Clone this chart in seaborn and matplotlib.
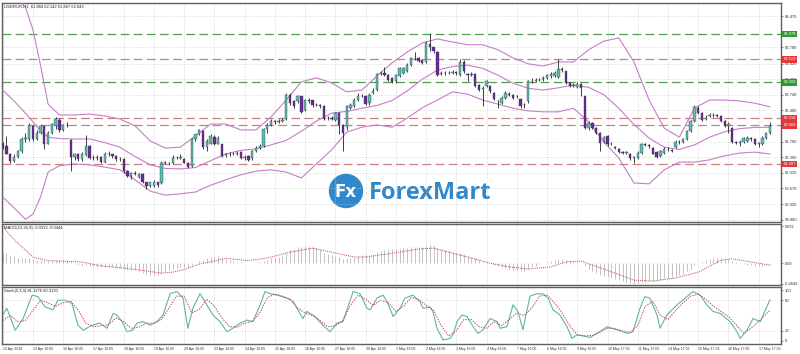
import numpy as np
import pandas as pd
import matplotlib
matplotlib.use("Agg")
import matplotlib.pyplot as plt
import matplotlib.transforms as mtrans
from matplotlib.patches import Circle
import seaborn as sns

sns.set_style("white")
plt.rcParams['font.family'] = ['Liberation Sans', 'DejaVu Sans']

# ---------------- data ----------------
opens = [61.64, 61.60, 61.44, 61.28, 61.37, 61.50, 61.75, 61.75, 62.05, 61.76, 61.90, 62.05, 61.66, 61.90, 62.04, 62.18,
         61.95, 62.08, 61.74, 61.36, 61.42, 61.32, 61.40, 61.61, 61.35, 61.34, 61.36, 61.26, 61.44, 61.42, 61.39, 61.31,
         61.32, 61.05, 60.95, 61.02, 60.92, 60.98, 60.80, 60.72, 60.72, 60.80, 60.78, 61.24, 61.24, 61.22, 61.35, 61.34,
         61.32, 61.24, 61.17, 61.75, 61.86, 61.94, 61.58, 61.66, 61.80, 61.66, 61.64, 61.40, 61.42, 61.43, 61.44, 61.47,
         61.35, 61.38, 61.33, 61.50, 61.57, 61.61, 61.97, 62.08, 62.15, 62.14, 62.16, 62.20, 62.74, 62.60, 62.59, 62.70,
         62.40, 62.62, 62.61, 62.51, 62.50, 62.48, 62.22, 62.23, 62.19, 62.33, 62.08, 62.02, 62.44, 62.48, 62.63, 62.72,
         62.70, 62.55, 62.78, 62.85, 63.20, 63.22, 63.18, 63.10, 63.03, 63.14, 63.22, 63.25, 63.40, 63.55, 63.55, 63.51,
         63.47, 63.86, 63.78, 63.68, 63.20, 63.22, 63.21, 63.22, 63.24, 63.18, 63.47, 63.20, 63.18, 63.19, 62.95, 62.87,
         62.92, 62.92, 62.78, 62.60, 62.56, 62.67, 62.76, 62.74, 62.70, 62.65, 62.50, 62.59, 63.04, 63.05, 63.07, 63.08,
         63.11, 63.14, 63.16, 63.12, 63.30, 63.25, 63.00, 62.94, 62.91, 62.98, 62.70, 62.01, 62.12, 62.01, 61.90, 61.70,
         61.83, 61.65, 61.58, 61.55, 61.47, 61.46, 61.44, 61.35, 61.35, 61.46, 61.64, 61.62, 61.57, 61.47, 61.39, 61.46,
         61.54, 61.52, 61.58, 61.70, 61.70, 61.75, 61.94, 62.16, 62.45, 62.34, 62.20, 62.27, 62.29, 62.28, 62.27, 62.16,
         62.05, 62.01, 61.70, 61.68, 61.70, 61.71, 61.78, 61.76, 61.66, 61.64, 61.79, 61.884]
highs = [61.70, 61.83, 61.46, 61.42, 61.52, 61.80, 61.90, 62.12, 62.08, 61.95, 62.10, 62.08, 61.93, 62.12, 62.24, 62.22,
         62.10, 62.14, 61.76, 61.46, 61.45, 61.47, 61.85, 61.63, 61.40, 61.40, 61.38, 61.48, 61.50, 61.44, 61.41, 61.36,
         61.34, 61.07, 61.04, 61.05, 61.00, 61.00, 60.82, 60.82, 60.86, 60.82, 61.27, 61.28, 61.26, 61.40, 61.38, 61.42,
         61.34, 61.26, 61.78, 61.88, 61.98, 61.96, 61.75, 61.86, 61.84, 61.83, 61.66, 61.45, 61.47, 61.48, 61.49, 61.49,
         61.40, 61.40, 61.52, 61.60, 61.64, 62.00, 62.12, 62.20, 62.19, 62.21, 62.22, 62.78, 62.78, 62.62, 62.74, 62.72,
         62.65, 62.66, 62.63, 62.56, 62.53, 62.50, 62.27, 62.26, 62.36, 62.35, 62.10, 62.52, 62.56, 62.66, 62.77, 62.76,
         62.72, 62.78, 62.88, 63.22, 63.26, 63.34, 63.20, 63.12, 63.20, 63.35, 63.36, 63.43, 63.58, 63.68, 63.58, 63.53,
         63.92, 64.10, 63.80, 63.70, 63.26, 63.25, 63.26, 63.28, 63.26, 63.52, 63.50, 63.22, 63.24, 63.21, 62.97, 62.92,
         63.07, 62.95, 62.80, 62.63, 62.70, 62.81, 62.79, 62.76, 62.74, 62.67, 62.55, 63.06, 63.10, 63.11, 63.11, 63.14,
         63.20, 63.23, 63.26, 63.52, 63.34, 63.27, 63.02, 62.99, 63.01, 63.00, 62.72, 62.15, 62.14, 62.03, 61.92, 61.83,
         61.85, 61.70, 61.61, 61.57, 61.50, 61.50, 61.46, 61.39, 61.49, 61.67, 61.68, 61.65, 61.59, 61.49, 61.52, 61.58,
         61.58, 61.54, 61.73, 61.73, 61.78, 61.96, 62.19, 62.52, 62.48, 62.36, 62.30, 62.34, 62.33, 62.32, 62.29, 62.18,
         62.14, 62.03, 61.72, 61.74, 61.81, 61.83, 61.80, 61.78, 61.70, 61.82, 61.92, 62.142]
lows = [61.55, 61.42, 61.22, 61.25, 61.33, 61.46, 61.70, 61.72, 61.72, 61.73, 61.88, 61.55, 61.64, 61.86, 61.97, 61.92,
        61.93, 62.02, 61.06, 61.30, 61.28, 61.28, 61.38, 61.32, 61.30, 61.30, 61.22, 61.24, 61.39, 61.35, 61.28, 61.28,
        61.02, 60.92, 60.88, 60.96, 60.90, 60.78, 60.65, 60.70, 60.70, 60.70, 60.76, 61.20, 61.19, 61.20, 61.31, 61.32,
        61.22, 61.13, 61.15, 61.72, 61.84, 61.55, 61.50, 61.64, 61.63, 61.64, 61.36, 61.37, 61.38, 61.40, 61.40, 61.31,
        61.30, 61.28, 61.30, 61.48, 61.55, 61.58, 61.90, 62.04, 62.10, 62.11, 62.13, 62.17, 62.52, 62.44, 62.56, 62.33,
        62.37, 62.55, 62.47, 62.48, 62.45, 62.18, 62.18, 62.17, 62.16, 61.86, 61.50, 61.95, 62.42, 62.46, 62.60, 62.68,
        62.50, 62.52, 62.76, 62.82, 63.17, 63.15, 63.04, 62.99, 63.00, 63.12, 63.20, 63.23, 63.38, 63.51, 63.45, 63.41,
        63.44, 63.70, 63.66, 63.14, 63.18, 63.18, 63.19, 63.20, 63.18, 63.16, 63.22, 63.05, 63.15, 62.90, 62.82, 62.48,
        62.90, 62.78, 62.62, 62.44, 62.53, 62.64, 62.71, 62.64, 62.67, 62.45, 62.44, 62.56, 63.00, 63.02, 63.03, 63.05,
        63.08, 63.11, 63.13, 63.10, 63.24, 62.97, 62.90, 62.91, 62.89, 62.71, 61.98, 61.96, 61.98, 61.87, 61.50, 61.67,
        61.61, 61.62, 61.53, 61.46, 61.43, 61.42, 61.30, 61.24, 61.32, 61.44, 61.60, 61.57, 61.42, 61.33, 61.36, 61.44,
        61.50, 61.47, 61.56, 61.66, 61.68, 61.73, 61.91, 62.13, 62.31, 62.16, 62.17, 62.24, 62.25, 62.24, 62.13, 62.02,
        61.90, 61.68, 61.65, 61.60, 61.68, 61.69, 61.72, 61.63, 61.58, 61.62, 61.77, 61.867]
closes = [61.60, 61.44, 61.28, 61.37, 61.50, 61.75, 61.78, 62.08, 61.76, 61.90, 62.05, 61.66, 61.90, 62.09, 62.20, 61.95,
          62.08, 62.07, 61.36, 61.42, 61.32, 61.44, 61.61, 61.35, 61.34, 61.36, 61.26, 61.44, 61.42, 61.39, 61.31, 61.32,
          61.05, 60.95, 61.02, 60.99, 60.98, 60.80, 60.72, 60.80, 60.81, 60.74, 61.24, 61.24, 61.22, 61.35, 61.34, 61.36,
          61.24, 61.15, 61.75, 61.86, 61.95, 61.58, 61.72, 61.83, 61.66, 61.79, 61.39, 61.42, 61.43, 61.44, 61.45, 61.35,
          61.36, 61.30, 61.50, 61.57, 61.61, 61.97, 62.08, 62.15, 62.14, 62.16, 62.18, 62.74, 62.56, 62.48, 62.70, 62.36,
          62.63, 62.59, 62.50, 62.52, 62.48, 62.22, 62.23, 62.21, 62.33, 62.08, 61.89, 62.48, 62.52, 62.63, 62.72, 62.71,
          62.53, 62.74, 62.81, 63.20, 63.22, 63.18, 63.07, 63.02, 63.18, 63.33, 63.33, 63.40, 63.55, 63.54, 63.48, 63.44,
          63.88, 63.80, 63.70, 63.18, 63.22, 63.21, 63.22, 63.24, 63.21, 63.47, 63.25, 63.18, 63.20, 62.92, 62.85, 62.88,
          63.03, 62.81, 62.65, 62.59, 62.67, 62.78, 62.74, 62.67, 62.71, 62.48, 62.52, 63.03, 63.05, 63.07, 63.06, 63.10,
          63.17, 63.20, 63.22, 63.30, 63.28, 63.00, 62.93, 62.95, 62.98, 62.89, 62.01, 62.12, 62.01, 61.90, 61.68, 61.80,
          61.64, 61.66, 61.57, 61.48, 61.46, 61.46, 61.33, 61.36, 61.46, 61.64, 61.63, 61.61, 61.44, 61.36, 61.50, 61.55,
          61.53, 61.50, 61.70, 61.69, 61.75, 61.94, 62.16, 62.47, 62.34, 62.19, 62.23, 62.29, 62.28, 62.27, 62.16, 62.05,
          62.10, 61.70, 61.68, 61.70, 61.78, 61.79, 61.76, 61.66, 61.66, 61.79, 61.90, 62.043]

band_bar = [0, 3, 6, 8, 10, 12, 15, 19, 23, 27, 31, 35, 39, 43, 47, 51, 55, 59, 63, 67, 71, 75, 79, 83, 87, 91, 95,
            99, 103, 107, 111, 115, 119, 123, 127, 131, 135, 139, 143, 147, 151, 155, 159, 163, 167, 171, 175, 179,
            183, 187, 191, 195, 199, 203]
band_mid = [62.84, 62.60, 62.33, 62.14, 61.94, 61.80, 61.77, 61.76, 61.76, 61.68, 61.58, 61.375, 61.19, 61.11, 61.10,
            61.13, 61.28, 61.43, 61.51, 61.54, 61.63, 61.73, 61.93, 62.155, 62.33, 62.37, 62.44, 62.50, 62.61, 62.82,
            63.08, 63.28, 63.36, 63.39, 63.32, 63.17, 62.99, 62.88, 62.84, 62.89, 62.95, 62.90, 62.74, 62.44, 62.08,
            61.78, 61.58, 61.53, 61.63, 61.80, 61.92, 61.99, 62.015, 62.02]
band_up = [65.20, 64.96, 64.67, 64.17, 63.39, 62.53, 62.29, 62.29, 62.31, 62.27, 62.20, 62.05, 61.72, 61.56, 61.58,
           61.83, 62.09, 62.09, 61.96, 61.96, 62.25, 62.62, 63.02, 63.11, 63.00, 62.80, 62.84, 63.15, 63.44, 63.68,
           63.88, 63.97, 63.90, 63.84, 63.84, 63.73, 63.55, 63.42, 63.37, 63.46, 63.46, 63.73, 63.92, 63.99, 63.46,
           62.62, 62.00, 61.80, 62.44, 62.62, 62.62, 62.60, 62.55, 62.47]
band_low = [60.48, 60.24, 59.99, 60.10, 60.48, 61.03, 61.17, 61.21, 61.19, 61.14, 61.08, 60.86, 60.61, 60.52, 60.55,
            60.59, 60.74, 60.86, 60.97, 61.05, 61.08, 61.03, 60.90, 61.21, 61.52, 61.91, 62.02, 62.07, 62.02, 62.22,
            62.45, 62.62, 62.80, 62.75, 62.62, 62.53, 62.44, 62.38, 62.36, 62.36, 62.44, 62.14, 61.70, 61.34, 60.79,
            60.77, 61.08, 61.25, 61.25, 61.30, 61.39, 61.45, 61.47, 61.43]

levels = [64.078, 63.519, 63.009, 62.218, 62.063, 61.207]
level_kind = ['g', 'r', 'g', 'r', 'r', 'r']

price_ticks = [64.470, 63.780, 63.420, 63.080, 62.740, 62.400, 61.700, 61.360, 61.010, 60.670, 60.320, 59.980]

macd_main = [0.23, 0.22, 0.19, 0.16, 0.13, 0.12, 0.11, 0.11, 0.09, 0.08, 0.08, 0.06, 0.06, 0.07, 0.08, 0.07,
             0.07, 0.07, 0.02, -0.01, -0.04, -0.05, -0.04, -0.06, -0.07, -0.08, -0.09, -0.09, -0.09, -0.09, -0.10, -0.10,
             -0.12, -0.14, -0.15, -0.16, -0.18, -0.21, -0.24, -0.26, -0.27, -0.27, -0.25, -0.20, -0.16, -0.13, -0.11, -0.09,
             -0.09, -0.09, -0.04, 0.01, 0.05, 0.08, 0.11, 0.14, 0.15, 0.16, 0.13, 0.10, 0.07, 0.05, 0.04, 0.02,
             0.01, 0.00, 0.00, 0.01, 0.02, 0.05, 0.08, 0.11, 0.13, 0.15, 0.16, 0.22, 0.30, 0.33, 0.36, 0.36,
             0.38, 0.38, 0.36, 0.34, 0.31, 0.22, 0.20, 0.18, 0.17, 0.14, 0.10, 0.12, 0.13, 0.15, 0.17, 0.18,
             0.18, 0.19, 0.20, 0.25, 0.28, 0.30, 0.31, 0.31, 0.32, 0.33, 0.34, 0.34, 0.36, 0.37, 0.37, 0.36,
             0.39, 0.40, 0.40, 0.35, 0.32, 0.29, 0.27, 0.25, 0.22, 0.22, 0.20, 0.17, 0.15, 0.11, 0.07, 0.04,
             0.03, 0.00, -0.03, -0.06, -0.09, -0.11, -0.13, -0.15, -0.16, -0.17, -0.18, -0.13, -0.09, -0.05, -0.02, 0.01,
             0.03, 0.05, 0.07, 0.09, 0.10, 0.08, 0.06, 0.04, 0.03, 0.01, -0.07, -0.12, -0.17, -0.21, -0.26, -0.28,
             -0.31, -0.33, -0.36, -0.38, -0.40, -0.42, -0.44, -0.4646, -0.44, -0.42, -0.41, -0.40, -0.40, -0.40, -0.38, -0.36,
             -0.34, -0.32, -0.29, -0.26, -0.23, -0.18, -0.12, -0.04, 0.01, 0.04, 0.07, 0.09, 0.11, 0.12, 0.12, 0.11,
             0.10, 0.05, 0.02, -0.01, -0.02, -0.03, -0.04, -0.05, -0.06, -0.05, -0.04, -0.0312]
sig_bar = [0, 2, 4, 6, 8, 12, 21, 26, 30, 35, 42, 45, 48, 52, 59, 65, 70, 76, 82, 87, 93, 96, 105, 110, 114, 118,
           123, 129, 134, 139, 145, 149, 153, 156, 162, 167, 172, 178, 184, 190, 193, 198, 203]
macd_signal = [0.832, 0.62, 0.45, 0.30, 0.14, 0.06, 0.03, -0.06, -0.09, -0.14, -0.22, -0.20, -0.14, -0.02, 0.11,
               0.06, 0.12, 0.25, 0.34, 0.25, 0.14, 0.14, 0.25, 0.32, 0.34, 0.25, 0.14, 0.0, -0.08, -0.13, -0.08,
               0.03, 0.05, -0.04, -0.22, -0.38, -0.40, -0.33, -0.20, 0.07, 0.10, 0.03, -0.0444]

stoch_bar = [0, 1.1, 3.3, 5.4, 7.8, 9.3, 11.2, 13.3, 14.6, 16.5, 18.3, 19.9, 21.3, 23.6, 25.7, 27.6, 29.2, 30.2,
             31.6, 32.9, 34.5, 35.5, 37.1, 39.0, 40.8, 42.4, 44.3, 46.1, 47.7, 49.0, 50.3, 52.2, 54.0, 55.6, 57.5,
             59.3, 60.9, 62.8, 64.6, 66.2, 68.1, 69.4, 70.7, 72.6, 75.2, 76.8, 79.4, 80.5, 82.6, 84.7, 86.6, 88.4,
             90.0, 92.7, 94.5, 96.4, 97.2, 99.0, 100.6, 101.7, 103.3, 105.1, 106.4, 108.5, 110.4, 111.2, 113.0, 113.8,
             114.9, 116.5, 118.3, 119.1, 120.2, 121.5, 122.8, 124.2, 125.7, 127.1, 128.9, 130.8, 131.6, 133.4, 135.0,
             136.3, 137.6, 139.5, 141.4, 143.0, 144.3, 145.6, 147.4, 149.3, 150.6, 151.9, 153.5, 155.4, 157.2, 159.9,
             162.5, 165.2, 166.7, 168.6, 169.9, 171.2, 173.1, 173.9, 175.7, 178.4, 181.0, 182.6, 184.5, 186.3, 187.9,
             189.8, 192.4, 194.3, 195.1, 196.9, 198.5, 200.4, 203]
stoch_main = [51, 64, 21, 44, 90, 87, 67, 61, 80, 80, 74, 31, 21, 31, 35, 25, 54, 51, 38, 18, 22, 35, 38, 31, 38,
              51, 93, 97, 84, 25, 64, 93, 71, 51, 38, 18, 25, 35, 41, 38, 71, 97, 93, 90, 84, 78, 44, 58, 48, 31,
              18, 35, 38, 97, 93, 64, 61, 84, 90, 77, 48, 64, 84, 90, 77, 64, 67, 58, 25, 2, 5, 12, 38, 51, 48, 31,
              15, 22, 44, 38, 25, 28, 71, 58, 22, 88, 93, 92, 84, 61, 51, 28, 5, 12, 10, 7, 15, 28, 22, 15, 18, 64,
              87, 84, 51, 25, 51, 71, 87, 97, 90, 71, 58, 54, 38, 18, 5, 21, 44, 38, 81.1276]
ssig_bar = list(range(0, 202, 2)) + [203]
stoch_signal = [40, 50, 38, 40, 60, 80, 75, 68, 75, 78, 60, 35, 28, 30, 32, 45, 38, 25, 27, 35, 35, 42, 65, 88, 88,
                55, 62, 82, 68, 45, 28, 27, 35, 38, 55, 85, 92, 88, 82, 65, 55, 50, 40, 28, 30, 40, 70, 90, 82, 70,
                80, 75, 58, 68, 85, 82, 70, 60, 30, 10, 20, 42, 42, 28, 25, 38, 30, 42, 55, 50, 65, 88, 90, 75, 55,
                30, 12, 10, 11, 17, 25, 24, 20, 17, 30, 68, 78, 50, 42, 60, 75, 88, 92, 82, 68, 58, 48, 32, 15, 25,
                38, 60.313]

day_labels = ['12 Apr 2018', '13 Apr 16:05', '16 Apr 16:05', '17 Apr 16:05', '18 Apr 16:05', '19 Apr 16:05',
              '20 Apr 16:05', '23 Apr 16:05', '24 Apr 16:05', '25 Apr 16:05', '26 Apr 16:05', '27 Apr 16:05',
              '30 Apr 16:05', '1 May 16:05', '2 May 16:05', '3 May 16:05', '4 May 16:05', '7 May 16:05',
              '8 May 16:05', '9 May 16:05', '10 May 17:05', '11 May 17:05', '14 May 17:05', '15 May 17:05',
              '16 May 17:05', '17 May 17:05']
day_bar = [0, 8, 16, 24, 32, 40, 48, 56, 64, 72, 80, 88, 96, 104, 112, 120, 128, 136, 144, 152, 160, 168, 176, 184,
           192, 200]

# ---------------- styling ----------------
BULL = '#5bbcb3'
BEAR = '#6a2b9c'
BAND = '#c57ec8'
GREEN = '#4f9f4f'
RED = '#c88080'
GRID = '#c9c9c9'
FS = 3.0
FSX = 2.55

W, H = 800, 354
fig = plt.figure(figsize=(W / 100, H / 100), dpi=100)
fig.patch.set_facecolor('white')


def rect(x0, y0, x1, y1):
    return [x0 / W, 1 - y1 / H, (x1 - x0) / W, (y1 - y0) / H]


ax1 = fig.add_axes(rect(2, 3, 781, 222))
ax2 = fig.add_axes(rect(2, 224, 781, 285), sharex=ax1)
ax3 = fig.add_axes(rect(2, 287, 781, 344), sharex=ax1)

XL = (-0.19, 205.9)
for ax in (ax1, ax2, ax3):
    ax.set_facecolor('white')
    for s in ax.spines.values():
        s.set_color('#606060')
        s.set_linewidth(1.0)
    ax.yaxis.tick_right()
    ax.tick_params(axis='y', labelsize=FS, length=1.5, width=0.4, pad=1.0, colors='#303030')
    ax.set_xticks(day_bar)
    ax.grid(True, axis='x', ls=(0, (1, 1.5)), color=GRID, lw=0.5)
ax1.set_xlim(*XL)
ax1.tick_params(axis='x', labelbottom=False, length=0)
ax2.tick_params(axis='x', labelbottom=False, length=0)

# ---- main panel ----
x = np.arange(len(closes))
o = np.array(opens)
c = np.array(closes)
h = np.array(highs)
l = np.array(lows)
up = c >= o
ax1.vlines(x, l, h, color='#202020', lw=0.6, zorder=4)
bb = np.minimum(o, c)
bh = np.maximum(np.abs(c - o), 0.008)
ax1.bar(x[up], bh[up], bottom=bb[up], width=0.62, color=BULL, edgecolor='#303030', lw=0.25, zorder=5)
ax1.bar(x[~up], bh[~up], bottom=bb[~up], width=0.62, color=BEAR, edgecolor='#303030', lw=0.25, zorder=5)

bands = pd.DataFrame({'bar': band_bar, 'mid': band_mid, 'up': band_up, 'low': band_low})
for col in ('mid', 'up', 'low'):
    sns.lineplot(data=bands, x='bar', y=col, ax=ax1, color=BAND, lw=0.8, zorder=3)

for v, k in zip(levels, level_kind):
    ax1.axhline(v, color=GREEN if k == 'g' else RED, lw=0.9, ls=(0, (7, 3.5)), zorder=2)

ax1.set_ylim(59.928, 64.762)
ax1.set_yticks(price_ticks)
ax1.set_yticklabels([f'{t:.3f}' for t in price_ticks])
ax1.grid(True, axis='y', ls=(0, (1, 1.5)), color=GRID, lw=0.5)
ax1.set_xlabel('')
ax1.set_ylabel('')

tr = mtrans.blended_transform_factory(ax1.transAxes, ax1.transData)
for v, k in zip(levels, level_kind):
    fc = '#2e9a2e' if k == 'g' else '#e23a3a'
    ax1.text(1.0035, v, f'{v:.3f}', transform=tr, fontsize=FS, color='white', ha='left', va='center',
             bbox=dict(boxstyle='square,pad=0.3', fc=fc, ec='none'), zorder=10, clip_on=False)

ax1.text(0.002, 0.992, 'USDRUR,H1  61.884 62.142 61.867 62.043', transform=ax1.transAxes, fontsize=FS,
         color='#202020', ha='left', va='top')

# ---- MACD panel ----
ax2.vlines(x, 0, macd_main, color='#b8b8b8', lw=0.6)
msig = pd.DataFrame({'bar': sig_bar, 'sig': macd_signal})
sns.lineplot(data=msig, x='bar', y='sig', ax=ax2, color='#c05050', lw=0.7, ls=(0, (1, 1)))
ax2.set_ylim(-0.488, 0.883)
ax2.set_yticks([-0.4646, 0.0, 0.832])
ax2.set_yticklabels(['-0.4646', '0.00', '0.832'])
ax2.tick_params(axis='y', labelsize=2.8)
ax2.set_xlabel('')
ax2.set_ylabel('')
ax2.text(0.002, 0.97, 'MACD(12,26,9) -0.0312 -0.0444', transform=ax2.transAxes, fontsize=FS,
         color='#202020', ha='left', va='top')

# ---- Stochastic panel ----
st = pd.DataFrame({'bar': stoch_bar, 'main': stoch_main})
ss = pd.DataFrame({'bar': ssig_bar, 'sig': stoch_signal})
sns.lineplot(data=st, x='bar', y='main', ax=ax3, color='#5fb3ab', lw=0.8)
sns.lineplot(data=ss, x='bar', y='sig', ax=ax3, color='#c05050', lw=0.7, ls=(0, (1.5, 1.2)))
ax3.set_ylim(-5.9, 105.9)
ax3.set_yticks([0, 20, 80, 100])
ax3.set_yticklabels(['0', '20', '80', '100'])
for lv in (20, 80):
    ax3.axhline(lv, color=GRID, lw=0.5, ls=(0, (1, 1.5)))
ax3.set_xlabel('')
ax3.set_ylabel('')
ax3.text(0.002, 0.97, 'Stoch(5,3,3) 81.1276 60.3130', transform=ax3.transAxes, fontsize=FS,
         color='#202020', ha='left', va='top')
ax3.set_xticks(day_bar)
ax3.set_xticklabels(day_labels, fontsize=FSX, ha='left', color='#303030')
ax3.tick_params(axis='x', length=1.5, width=0.4, pad=1.0)

# ---- watermark logo ----
axw = fig.add_axes([0, 0, 1, 1], zorder=-1)
axw.set_xlim(0, W)
axw.set_ylim(H, 0)
axw.axis('off')
axw.patch.set_alpha(0)
for a in (ax1, ax2, ax3):
    a.set_zorder(1)
    a.patch.set_alpha(0)
axw.add_patch(Circle((346, 191), 16.5, color='#2f87cc'))
axw.text(346, 192, 'Fx', fontsize=12, color='white', ha='center', va='center', fontweight='bold',
         family='DejaVu Sans')
axw.text(369, 193, 'ForexMart', fontsize=17, color='#2f87cc', ha='left', va='center', fontweight='bold',
         family='Open Sans')

fig.savefig('out.png', dpi=100, facecolor='white')
